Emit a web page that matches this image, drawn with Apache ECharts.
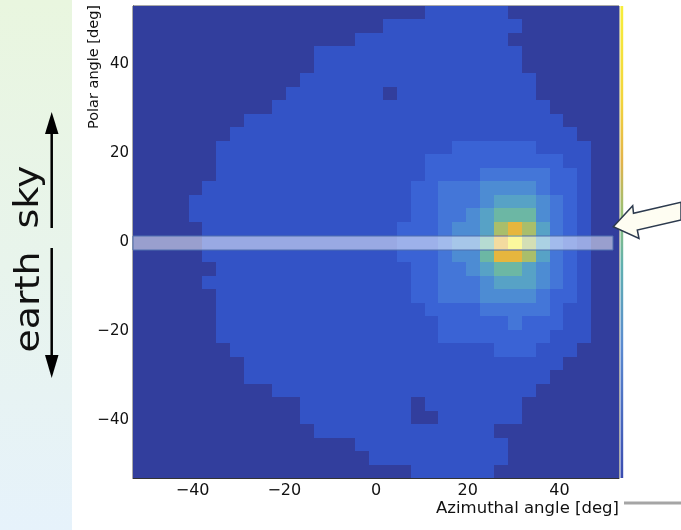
<!DOCTYPE html>
<html><head><meta charset="utf-8">
<script src="https://cdn.jsdelivr.net/npm/echarts@6/dist/echarts.min.js"></script>
<style>html,body{margin:0;padding:0;background:#fff}#c{width:681px;height:530px}</style>
</head><body><div id="c"></div>
<script>
// ---- data ----
const xRange = [-53, 53];
const yRange = [-53, 53];
const nBinsX = 35;
const nBinsY = 35;
// colour level of each bin, rows from top (polar +53) to bottom, columns from azimuth -53
const levelRows = [
  "00000 00000 00000 00000 01111 11000 00000",
  "00000 00000 00000 00011 11111 11100 00000",
  "00000 00000 00000 01111 11111 11000 00000",
  "00000 00000 00011 11111 11111 11100 00000",
  "00000 00000 00011 11111 11111 11100 00000",
  "00000 00000 00111 11111 11111 11110 00000",
  "00000 00000 01111 11101 11111 11110 00000",
  "00000 00000 11111 11111 11111 11111 00000",
  "00000 00011 11111 11111 11111 11111 10000",
  "00000 00111 11111 11111 11111 11111 11000",
  "00000 01111 11111 11111 11122 22221 11100",
  "00000 01111 11111 11111 12222 22222 21100",
  "00000 01111 11111 11111 12222 33333 22100",
  "00000 11111 11111 11111 22333 44443 22100",
  "00001 11111 11111 11111 22333 45554 32100",
  "00001 11111 11111 11111 22334 56664 32100",
  "00000 11111 11111 11112 22344 57875 32100",
  "00000 11111 11111 11112 22344 68975 32100",
  "00000 11111 11111 11112 22344 68875 32100",
  "00000 01111 11111 11111 22334 56654 32100",
  "00000 11111 11111 11111 22333 45554 32100",
  "00000 01111 11111 11111 22333 44443 22100",
  "00000 01111 11111 11111 12222 33333 21100",
  "00000 01111 11111 11111 11222 22322 21100",
  "00000 01111 11111 11111 11222 22222 11100",
  "00000 00111 11111 11111 11111 12221 11000",
  "00000 00011 11111 11111 11111 11111 10000",
  "00000 00011 11111 11111 11111 11111 00000",
  "00000 00000 11111 11111 11111 11110 00000",
  "00000 00000 00111 11111 01111 11100 00000",
  "00000 00000 00111 11111 00111 11100 00000",
  "00000 00000 00011 11111 11111 10000 00000",
  "00000 00000 00000 01111 11111 11000 00000",
  "00000 00000 00000 00111 11111 11000 00000",
  "00000 00000 00000 00000 11111 10000 00000"
];
const levelColors = ['#323e9d','#3353c6','#3a63d5','#4476d8','#4d8cd3','#57a2c6','#6cb7a4','#a9be6b','#e6b63e','#f6f13a'];
const xMajorTicks = [-40, -20, 0, 20, 40];
const yMajorTicks = [-40, -20, 0, 20, 40];
const xMinorTicks = [-50,-45,-35,-30,-25,-15,-10,-5,5,10,15,25,30,35,45,50];
const yMinorTicks = [-50,-45,-35,-30,-25,-15,-10,-5,5,10,15,25,30,35,45,50];
const xTitle = 'Azimuthal angle [deg]';
const yTitle = 'Polar angle [deg]';
const bandX = [-53, 51.8];
const bandY = [-1.9, 1.45];

// ---- build bins ----
const bx = (xRange[1] - xRange[0]) / nBinsX;
const by = (yRange[1] - yRange[0]) / nBinsY;
const cells = [];
levelRows.forEach((row, r) => {
  const s = row.replace(/\s/g, '');
  const yHi = yRange[1] - r * by;
  for (let c = 0; c < s.length; c++) {
    cells.push([xRange[0] + c * bx, xRange[0] + (c + 1) * bx, yHi - by, yHi, +s[c]]);
  }
});
const fmt = v => (v < 0 ? '\u2212' : '') + Math.abs(v);
const FONT = 'DejaVu Sans';

const chart = echarts.init(document.getElementById('c'), null, {renderer: 'canvas'});
const rectItem = (api, style) => {
  const a = api.coord([api.value(0), api.value(3)]);
  const b = api.coord([api.value(1), api.value(2)]);
  const x = Math.round(a[0]), y = Math.round(a[1]);
  return {type: 'rect', shape: {x: x, y: y, width: Math.round(b[0]) - x, height: Math.round(b[1]) - y}, style: style};
};
const majorAxis = (ticks, fs, pos, margin) => ({
  type: 'value', position: pos, gridIndex: 0,
  axisLine: {show: true, onZero: false, lineStyle: {color: '#333', width: 1}},
  axisTick: {show: true, inside: true, length: 14, customValues: ticks, lineStyle: {color: '#111', width: 1}},
  axisLabel: {show: true, customValues: ticks, formatter: fmt, color: '#111', fontSize: fs, fontFamily: FONT, margin: margin},
  splitLine: {show: false}, minorTick: {show: false}
});
const minorAxis = (ticks, pos) => ({
  type: 'value', position: pos, gridIndex: 0, offset: 0,
  axisLine: {show: false, onZero: false},
  axisTick: {show: true, inside: true, length: 7, customValues: ticks, lineStyle: {color: '#111', width: 1}},
  axisLabel: {show: false, customValues: ticks},
  splitLine: {show: false}
});
const xa0 = Object.assign(majorAxis(xMajorTicks, 16, 'bottom', 5), {min: xRange[0], max: xRange[1]});
const xa1 = Object.assign(minorAxis(xMinorTicks, 'bottom'), {min: xRange[0], max: xRange[1]});
const ya0 = Object.assign(majorAxis(yMajorTicks, 15, 'left', 4), {min: yRange[0], max: yRange[1]});
const ya1 = Object.assign(minorAxis(yMinorTicks, 'left'), {min: yRange[0], max: yRange[1]});

chart.setOption({
  animation: false,
  backgroundColor: '#ffffff',
  grid: {left: 133, top: 6, width: 486, height: 472, show: true, borderColor: '#555', borderWidth: 1,
         backgroundColor: levelColors[0], containLabel: false, outerBoundsMode: 'none'},
  xAxis: [xa0, xa1],
  yAxis: [ya0, ya1],
  visualMap: {type: 'continuous', show: false, min: 0, max: levelColors.length - 1, dimension: 4,
              seriesIndex: 0, inRange: {color: levelColors}},
  series: [
    {type: 'custom', xAxisIndex: 0, yAxisIndex: 0, silent: true, data: cells,
     encode: {x: [0, 1], y: [2, 3]},
     renderItem: (params, api) => rectItem(api, {fill: api.visual('color')})},
    {type: 'custom', xAxisIndex: 0, yAxisIndex: 0, silent: true, z: 5,
     data: [[bandX[0], bandX[1], bandY[0], bandY[1]]],
     encode: {x: [0, 1], y: [2, 3]},
     renderItem: (params, api) => rectItem(api, {fill: 'rgba(255,255,255,0.5)', stroke: '#4f6fae', lineWidth: 1})}
  ],
  graphic: [
    {type: 'rect', z: -10, shape: {x: 0, y: 0, width: 72, height: 530},
     style: {fill: new echarts.graphic.LinearGradient(0, 0, 0, 1, [
       {offset: 0, color: '#e9f6df'}, {offset: 0.5, color: '#e8f4ec'}, {offset: 1, color: '#e6f2fb'}])}},
    {type: 'text', x: 29, y: 197, rotation: Math.PI / 2, scaleX: 1.15,
     style: {text: 'sky', font: '33px "DejaVu Sans"', fill: '#111', align: 'center', verticalAlign: 'middle', textAlign: 'center', textVerticalAlign: 'middle'}},
    {type: 'text', x: 30, y: 302, rotation: Math.PI / 2, scaleX: 1.15,
     style: {text: 'earth', font: '33px "DejaVu Sans"', fill: '#111', align: 'center', verticalAlign: 'middle', textAlign: 'center', textVerticalAlign: 'middle'}},
    {type: 'line', shape: {x1: 51.7, y1: 228, x2: 51.7, y2: 130}, style: {stroke: '#000', lineWidth: 2.5}},
    {type: 'polygon', shape: {points: [[51.7, 112], [45, 134], [58.5, 134]]}, style: {fill: '#000'}},
    {type: 'line', shape: {x1: 51.7, y1: 248, x2: 51.7, y2: 358}, style: {stroke: '#000', lineWidth: 2.5}},
    {type: 'polygon', shape: {points: [[51.7, 378], [45, 355], [58.5, 355]]}, style: {fill: '#000'}},
    {type: 'text', x: 94, y: 5, rotation: Math.PI / 2,
     style: {text: yTitle, font: '14.5px "DejaVu Sans"', fill: '#111', align: 'right', verticalAlign: 'middle', textAlign: 'right', textVerticalAlign: 'middle'}},
    {type: 'text', x: 619, y: 500, 
     style: {text: xTitle, font: '16.5px "DejaVu Sans"', fill: '#111', align: 'right', verticalAlign: 'top', textAlign: 'right', textVerticalAlign: 'top'}},
    {type: 'rect', shape: {x: 620.5, y: 6, width: 2.7, height: 472},
     style: {fill: new echarts.graphic.LinearGradient(0, 0, 0, 1, [
       {offset: 0, color: '#f7ee3a'}, {offset: 0.2, color: '#f2d43c'}, {offset: 0.33, color: '#e2b34a'},
       {offset: 0.45, color: '#8fc07a'}, {offset: 0.55, color: '#5fb0b0'}, {offset: 0.72, color: '#5a8ad0'},
       {offset: 1, color: '#3a4cb0'}])}},
    {type: 'polygon', z: 20, shape: {points: [[613.3, 226.7], [632.7, 205.7], [633.5, 213.3], [681, 202.3], [681, 220], [637.3, 230], [639, 238.5]]},
     style: {fill: '#fefdf2', stroke: '#2c3a4e', lineWidth: 1.5}},
    {type: 'rect', shape: {x: 624, y: 501.5, width: 57, height: 3}, style: {fill: '#a5a5a5'}}
  ]
});
</script></body></html>
